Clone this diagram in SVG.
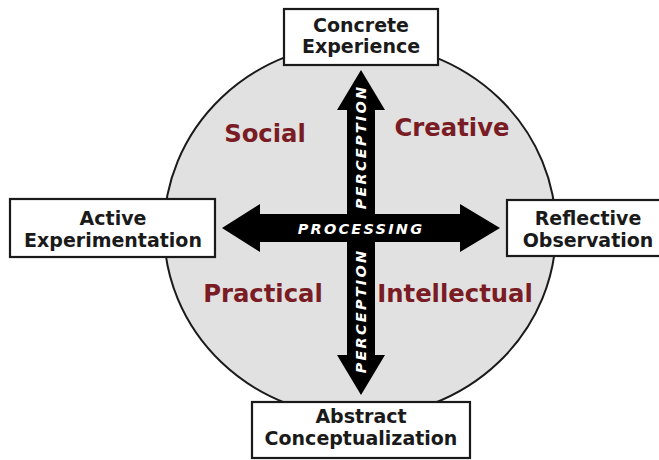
<svg xmlns="http://www.w3.org/2000/svg" width="659" height="460" viewBox="0 0 659 460">
  <style>
    .box { fill: #ffffff; stroke: #1a1a1a; stroke-width: 2.2; }
    .btxt { font-family: "DejaVu Sans", Verdana, sans-serif; font-weight: bold; font-size: 19px; fill: #1a1a1a; text-anchor: middle; }
    .quad { font-family: "DejaVu Sans", Verdana, sans-serif; font-weight: bold; font-size: 24.3px; fill: #7a1c24; text-anchor: middle; }
    .axis { font-family: "DejaVu Sans", Verdana, sans-serif; font-weight: bold; font-style: italic; font-size: 14.5px; fill: #ffffff; text-anchor: middle; letter-spacing: 2.2px; }
  </style>
  <rect x="0" y="0" width="659" height="460" fill="#ffffff"/>
  <g id="cycle">
    <ellipse cx="360" cy="230" rx="196" ry="187" fill="#e1e1e1" stroke="#1a1a1a" stroke-width="2"/>
  </g>
  <g id="connectors">
    <path d="M222,228 L260,204 L260,214 L347,214 L347,110 L337,110 L361,70 L385,110 L375,110 L375,214 L460,214 L460,204 L500,228 L460,252 L460,242 L375,242 L375,355 L385,355 L361,395 L337,355 L347,355 L347,242 L260,242 L260,252 Z" fill="#000000"/>
    <text class="axis" x="361" y="233.5">PROCESSING</text>
    <text class="axis" transform="translate(361,148) rotate(-90)" x="1" y="5.2">PERCEPTION</text>
    <text class="axis" transform="translate(361,312) rotate(-90)" x="1" y="5.2">PERCEPTION</text>
  </g>
  <g id="quadrants">
    <text class="quad" x="265" y="142">Social</text>
    <text class="quad" x="452" y="136">Creative</text>
    <text class="quad" x="263" y="302">Practical</text>
    <text class="quad" x="455" y="302">Intellectual</text>
  </g>
  <g id="concrete-experience">
    <rect class="box" x="284" y="9" width="154" height="56"/>
    <text class="btxt" x="361" y="32">Concrete</text>
    <text class="btxt" x="361" y="53">Experience</text>
  </g>
  <g id="active-experimentation">
    <rect class="box" x="10" y="199" width="205" height="58"/>
    <text class="btxt" x="113" y="225">Active</text>
    <text class="btxt" x="113" y="247">Experimentation</text>
  </g>
  <g id="reflective-observation">
    <rect class="box" x="507" y="200" width="162" height="56"/>
    <text class="btxt" x="588" y="225">Reflective</text>
    <text class="btxt" x="588" y="247">Observation</text>
  </g>
  <g id="abstract-conceptualization">
    <rect class="box" x="252" y="402" width="218" height="56"/>
    <text class="btxt" x="361" y="423">Abstract</text>
    <text class="btxt" x="361" y="445">Conceptualization</text>
  </g>
</svg>
